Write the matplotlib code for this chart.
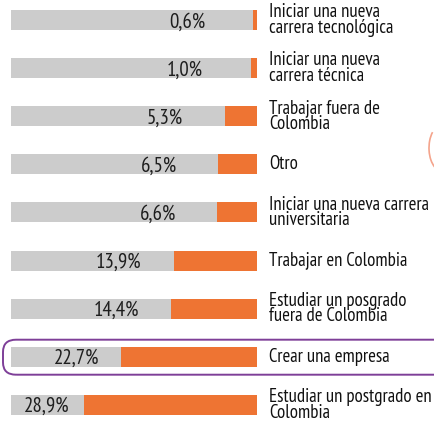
import matplotlib.pyplot as plt
from matplotlib.patches import FancyBboxPatch, Arc

plt.rcParams['font.family'] = ['PT Sans Narrow', 'DejaVu Sans']

labels = ['Iniciar una nueva\ncarrera tecnológica',
          'Iniciar una nueva\ncarrera técnica',
          'Trabajar fuera de\nColombia',
          'Otro',
          'Iniciar una nueva carrera\nuniversitaria',
          'Trabajar en Colombia',
          'Estudiar un posgrado\nfuera de Colombia',
          'Crear una empresa',
          'Estudiar un postgrado en\nColombia']
values = [0.6, 1.0, 5.3, 6.5, 6.6, 13.9, 14.4, 22.7, 28.9]
value_text = ['0,6%', '1,0%', '5,3%', '6,5%', '6,6%', '13,9%', '14,4%', '22,7%', '28,9%']
highlight = 'Crear una empresa'

W, H = 435, 422
gray_max = 41.0
row_px = 48.1
first_px = 20

fig = plt.figure(figsize=(W / 100, H / 100), dpi=100)
ax = fig.add_axes([11 / W, 0, 246 / W, 1])
ax.set_xlim(0, gray_max)
ax.set_ylim((H - first_px) / row_px, -first_px / row_px)
ax.axis('off')

y = list(range(len(values)))
ax.barh(y, [gray_max] * len(values), height=20 / row_px, color='#CCCCCC')
ax.barh(y, values, left=[gray_max - v for v in values], height=20 / row_px,
        color='#EE7433')

for i, (v, t, lab) in enumerate(zip(values, value_text, labels)):
    start = gray_max - v
    ax.text(start * 0.8, i + 0.04, t, ha='right', va='center',
            fontsize=15, color='#1e1e1e')
    ax.text(gray_max + 2.0, i, lab, ha='left', va='center', fontsize=13.5,
            color='#111111', linespacing=0.84, clip_on=False)

# purple rounded box around the highlighted row (runs off the right edge)
hi = labels.index(highlight)
top = first_px + row_px * hi - 17
box = FancyBboxPatch((3 / W, 1 - (top + 35) / H), 1.1, 35 / H,
                     boxstyle='round,pad=0,rounding_size=0.03',
                     transform=fig.transFigure, fill=False,
                     edgecolor='#7E3F98', linewidth=1.4, mutation_aspect=H / W)
fig.patches.append(box)

# stray hand-drawn arc on the right
arc = Arc((442 / W, 1 - 148 / H), 26 / W, 46 / H, theta1=120, theta2=250,
          transform=fig.transFigure, color='#F4A48C', linewidth=1.2)
fig.patches.append(arc)

fig.savefig('out.png', dpi=100)
